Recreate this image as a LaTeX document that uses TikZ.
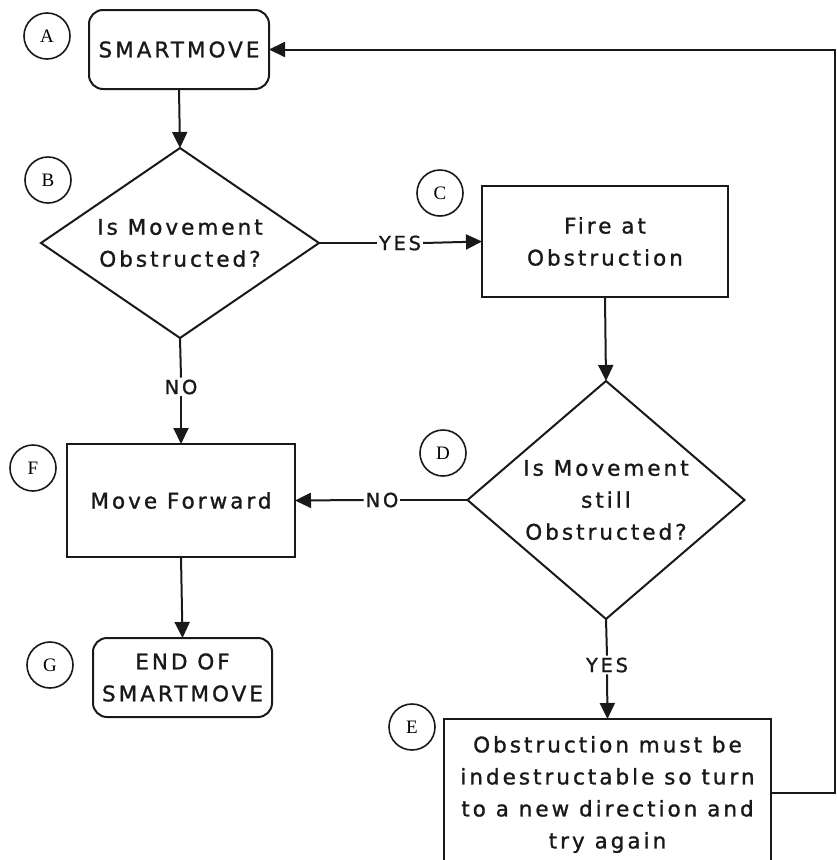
\documentclass[tikz,border=0pt]{standalone}
\usepackage{fontspec}
\usetikzlibrary{shapes.geometric,arrows.meta}
\newfontfamily\boxfont[LetterSpace=14,FakeBold=1.2]{DejaVu Sans}
\newfontfamily\tagfont{Liberation Serif}
\tikzset{
  x=1pt,y=-1pt,
  every node/.style={inner sep=0pt,outer sep=0pt},
  conn/.style={line width=2pt,draw=black!90},
  arr/.style={conn,-{Triangle[length=16pt,width=15pt]}},
  txt/.style={font=\boxfont\fontsize{21.5}{32}\selectfont,align=center,text=black!90},
  term/.style={txt,draw=black!90,line width=2pt,rounded corners=14pt},
  proc/.style={txt,draw=black!90,line width=2pt},
  decide/.style={txt,draw=black!90,line width=2pt,diamond},
  tag/.style={circle,draw=black!90,line width=1.6pt,minimum size=46pt,font=\tagfont\fontsize{19}{19}\selectfont},
  lbl/.style={font=\boxfont\fontsize{19.5}{19.5}\selectfont,text=black!90,inner sep=2pt}
}
\begin{document}
\begin{tikzpicture}
\useasboundingbox (0,0) rectangle (837,860);
\clip (0,0) rectangle (837,860);
% main nodes
\node[term,minimum width=180pt,minimum height=79pt] (A) at (179,49.5) {SMARTMOVE};
\node[decide,minimum width=278pt,minimum height=190pt,shape aspect=1.46] (B) at (180,243) {Is Movement\\Obstructed?};
\node[proc,minimum width=246pt,minimum height=111pt] (C) at (605,241.5) {Fire at\\Obstruction};
\node[decide,minimum width=277pt,minimum height=238pt,shape aspect=1.16] (D) at (606,500) {Is Movement\\still\\Obstructed?};
\node[proc,minimum width=228pt,minimum height=113pt] (F) at (181,500.5) {Move Forward};
\node[term,minimum width=179pt,minimum height=79pt] (G) at (182.5,677.5) {END OF\\SMARTMOVE};
\node[proc,minimum width=327pt,minimum height=151pt] (E) at (607.5,794.5) {Obstruction must be\\indestructable so turn\\to a new direction and\\try again};
% tags
\node[tag] (tA) at (47,36) {A};
\node[tag] (tB) at (48,180) {B};
\node[tag] (tC) at (440,193) {C};
\node[tag] (tD) at (443,453) {D};
\node[tag] (tF) at (33,468) {F};
\node[tag] (tG) at (50,665) {G};
\node[tag] (tE) at (412,727) {E};
% labels
\node[lbl] (yes1) at (400,243) {YES};
\node[lbl] (no1) at (181,387) {NO};
\node[lbl] (no2) at (382,500) {NO};
\node[lbl] (yes2) at (607,665) {YES};
% connectors
\draw[arr] (A.south) -- (B.north);
\draw[conn] (B.east) -- (yes1.west);
\draw[arr] (yes1.east) -- (C.west);
\draw[conn] (B.south) -- (no1.north);
\draw[arr] (no1.south) -- (F.north);
\draw[arr] (C.south) -- (D.north);
\draw[conn] (D.west) -- (no2.east);
\draw[arr] (no2.west) -- (F.east);
\draw[conn] (D.south) -- (yes2.north);
\draw[arr] (yes2.south) -- (E.north);
\draw[arr] (F.south) -- (G.north);
\coordinate (R) at (835,793);
\draw[arr] (E.east |- R) -- (R) |- (A.east);
\end{tikzpicture}
\end{document}
